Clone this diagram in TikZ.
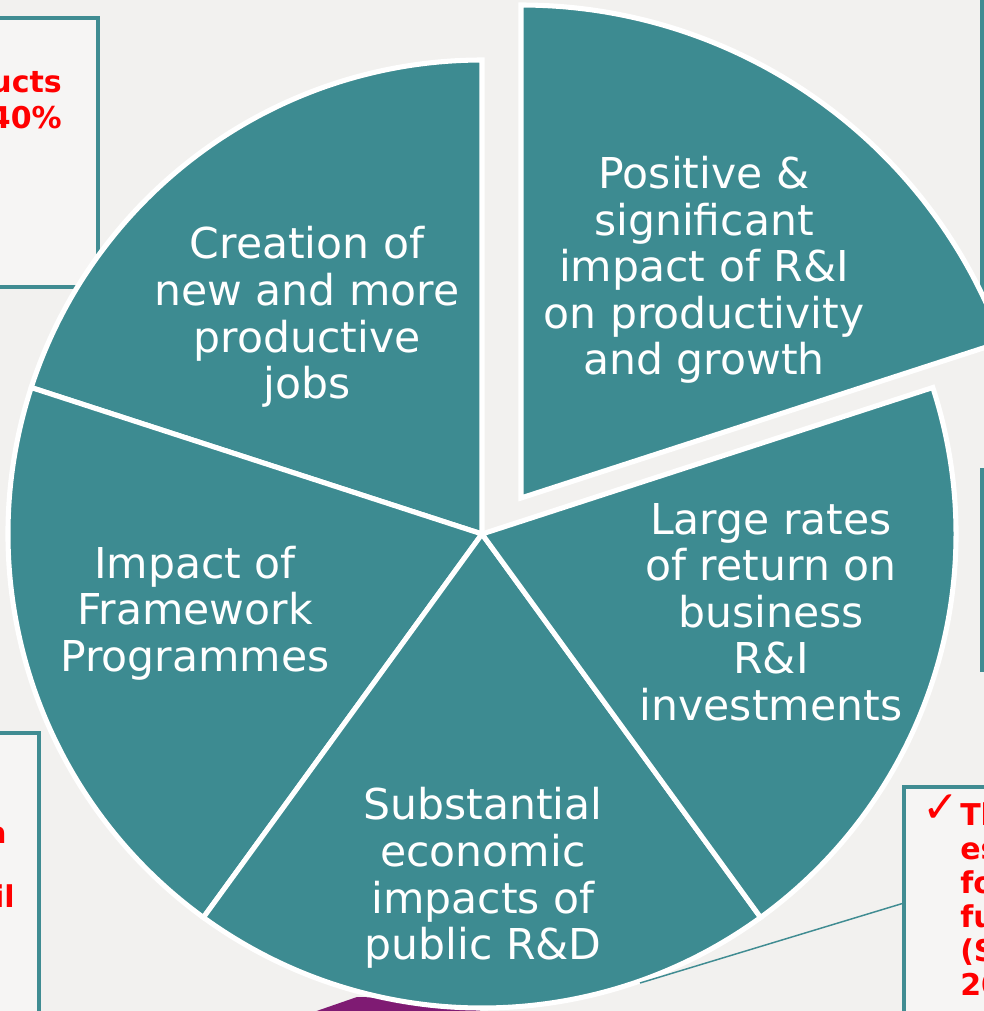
\documentclass[tikz,border=0pt]{standalone}
\usepackage{fontspec}
\setmainfont{DejaVu Sans}
\definecolor{bgc}{RGB}{242,241,239}
\definecolor{boxfill}{RGB}{246,245,244}
\definecolor{teal1}{RGB}{61,139,145}
\definecolor{boxteal}{RGB}{64,140,146}
\definecolor{purp}{RGB}{127,27,115}
\tikzset{
  slice/.style={fill=teal1, draw=white, line width=3.8pt, line join=miter},
  boxline/.style={draw=boxteal, line width=2.4pt},
  lbl/.style={text=white, align=center, inner sep=0pt, font=\fontsize{31.9}{34.9}\selectfont},
  redtxt/.style={text=red, inner sep=0pt, font=\bfseries\fontsize{22.5}{26}\selectfont},
}
\begin{document}
\begin{tikzpicture}[x=0.75pt,y=-0.75pt]
\useasboundingbox (0,0) rectangle (984,1011);
\clip (0,0) rectangle (984,1011);
\fill[bgc] (0,0) rectangle (984,1011);

% side boxes (partly outside the picture)
\draw[boxline, fill=boxfill] (-10,18) rectangle (98,287);
\node[redtxt, anchor=base east] (t1) at (62,92) {ucts};
\node[redtxt, anchor=base east] (t2) at (62,128) {40\%};

\draw[boxline] (982,-10) -- (982,330);
\draw[boxline, fill=boxfill] (995,470) -- (982,470) -- (982,670) -- (995,670);

\draw[boxline, fill=boxfill] (-10,733) rectangle (39,1020);
\node[redtxt, anchor=base east] (t3) at (7,843) {a};
\node[redtxt, anchor=base east] (t4) at (15,907) {il};

\draw[boxline, fill=boxfill] (904,787) rectangle (1000,1020);
\coordinate (boxpt) at (904,903);
\node[text=red, inner sep=0pt, font=\fontsize{33}{33}\selectfont, anchor=base] (chk) at (941,822) {✓};
\node[redtxt, anchor=base west] (r1) at (960,825) {Th};
\node[redtxt, anchor=base west] (r2) at (960,859) {es};
\node[redtxt, anchor=base west] (r3) at (960,893) {fo};
\node[redtxt, anchor=base west] (r4) at (960,927) {fu};
\node[redtxt, anchor=base west] (r5) at (960,961) {(S};
\node[redtxt, anchor=base west] (r6) at (960,995) {20};

% purple shape behind pie
\fill[purp] (305,1015) -- (357,997) -- (480,1000) -- (480,1015) -- cycle;

% pie
\coordinate (c) at (482,534);
\foreach \a in {90,162,234,306}
  \filldraw[slice] (c) -- ++(-\a:474) arc[start angle=-\a, end angle=-\a-72, radius=474] -- cycle;
% exploded slice
\filldraw[slice] (521,498) -- (521,5) arc[start angle=-90, end angle=-20, radius=512] -- cycle;

% callout line
\coordinate (pieedge) at (640,983);
\draw[boxteal, line width=1.1pt] (boxpt) -- (pieedge);

% labels
\node[lbl] (l1) at (307,317) {Creation of\\new and more\\productive\\jobs};
\node[lbl] (l2) at (704,270) {Positive \&\\significant\\impact of R\&I\\on productivity\\and growth};
\node[lbl] (l3) at (771,612) {Large rates\\of return on\\business\\R\&I\\investments};
\node[lbl] (l4) at (483,878) {Substantial\\economic\\impacts of\\public R\&D};
\node[lbl] (l5) at (195,613) {Impact of\\Framework\\Programmes};
\end{tikzpicture}
\end{document}
